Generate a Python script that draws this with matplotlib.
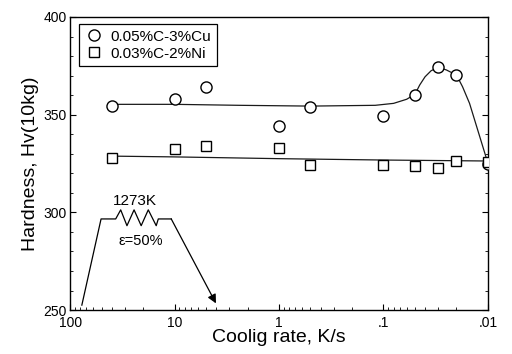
import numpy as np
import matplotlib
matplotlib.use("Agg")
import matplotlib.pyplot as plt
from matplotlib.ticker import FixedLocator, LogLocator, NullFormatter

plt.rcParams['font.family'] = ['Liberation Sans', 'DejaVu Sans']

# measured points
rate = [40, 10, 5, 1, 0.5, 0.1, 0.05, 0.03, 0.02, 0.01]
hv_cu = [354.6, 358.2, 364.3, 344.2, 354.1, 349.3, 360.1, 374.2, 370.1, 324.7]
hv_ni = [327.7, 332.4, 334.1, 332.8, 324.2, 324.2, 323.9, 322.5, 326.4, 325.9]

# hand drawn trend lines
fit_cu_x = [40, 10, 2.4, 0.5, 0.12, 0.08, 0.06, 0.05, 0.045, 0.04, 0.035, 0.03,
            0.025, 0.02, 0.0175, 0.015, 0.0125, 0.01]
fit_cu_y = [355.3, 355.3, 354.8, 354.4, 354.8, 355.8, 357.9, 360.4, 365.2, 369.4,
            372.5, 374.2, 372.9, 370.3, 364.3, 355.8, 342.0, 325.1]
fit_ni_x = [40, 10, 1, 0.1, 0.01]
fit_ni_y = [328.8, 328.4, 327.5, 326.8, 326.3]

# heat treatment sketch (axes fraction)
sched_x = [0.028, 0.074, 0.109, 0.121, 0.136, 0.153, 0.170, 0.187, 0.206, 0.211, 0.242]
sched_y = [0.017, 0.311, 0.311, 0.342, 0.288, 0.342, 0.288, 0.342, 0.288, 0.311, 0.311]
arrow_tip = (0.349, 0.023)

fig = plt.figure(figsize=(5.12, 3.54), dpi=100)
ax = fig.add_axes([0.137, 0.124, 0.816, 0.828])

ax.plot(fit_cu_x, fit_cu_y, color='#1a1a1a', lw=0.9)
ax.plot(fit_ni_x, fit_ni_y, color='#1a1a1a', lw=0.9)
ax.plot(rate, hv_cu, 'o', ms=8, mfc='white', mec='black', mew=1.0,
        label='0.05%C-3%Cu', zorder=3)
ax.plot(rate, hv_ni, 's', ms=7.5, mfc='white', mec='black', mew=1.0,
        label='0.03%C-2%Ni', zorder=3)

ax.set_xscale('log')
ax.set_xlim(100, 0.01)
ax.set_ylim(250, 400)
ax.xaxis.set_major_locator(FixedLocator([100, 10, 1, 0.1, 0.01]))
ax.set_xticklabels(['100', '10', '1', '.1', '.01'])
ax.xaxis.set_minor_locator(LogLocator(base=10, subs=np.arange(2, 10)))
ax.xaxis.set_minor_formatter(NullFormatter())
ax.set_yticks([250, 300, 350, 400])
ax.set_yticks(np.arange(250, 401, 10), minor=True)
ax.tick_params(which='both', direction='in', top=False, right=True, labelsize=10)
ax.tick_params(which='major', length=4, width=0.8)
ax.tick_params(axis='x', which='major', pad=4.5)
ax.tick_params(axis='y', which='major', pad=2.5)
ax.tick_params(which='minor', length=2.5, width=0.6)
for s in ax.spines.values():
    s.set_linewidth(1.0)

ax.set_xlabel('Coolig rate, K/s', fontsize=14, labelpad=-1)
ax.set_ylabel('Hardness, Hv(10kg)', fontsize=14, labelpad=3)

leg = ax.legend(loc='upper left', bbox_to_anchor=(0.022, 0.975), fontsize=11,
                frameon=True, fancybox=False, edgecolor='black', framealpha=1,
                handletextpad=0.5, borderpad=0.35, labelspacing=0.2,
                handlelength=1.2, borderaxespad=0)
leg.get_frame().set_linewidth(0.9)

# schematic of the thermo-mechanical treatment
ax.plot(sched_x, sched_y, color='black', lw=0.9, transform=ax.transAxes)
ax.annotate('', xy=arrow_tip, xycoords='axes fraction',
            xytext=(sched_x[-1], sched_y[-1]), textcoords='axes fraction',
            arrowprops=dict(arrowstyle='-|>', color='black', lw=0.9,
                            mutation_scale=13, shrinkA=0, shrinkB=0))
ax.text(0.156, 0.372, '1273K', transform=ax.transAxes, ha='center', va='center',
        fontsize=11)
ax.text(0.170, 0.237, 'ε=50%', transform=ax.transAxes, ha='center', va='center',
        fontsize=10.5)

fig.savefig('out.png', dpi=100)
